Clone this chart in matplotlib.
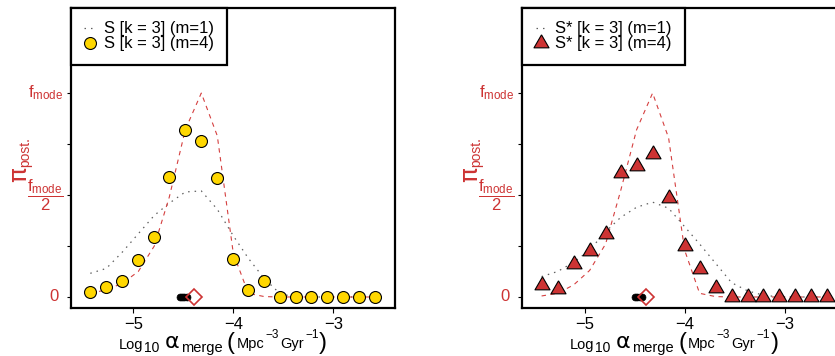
import matplotlib
matplotlib.use('Agg')
import matplotlib.pyplot as plt

plt.rcParams['font.family'] = ['Liberation Sans', 'DejaVu Sans']
plt.rcParams['mathtext.fontset'] = 'custom'
plt.rcParams['mathtext.rm'] = 'Liberation Sans'
plt.rcParams['mathtext.it'] = 'Liberation Sans:italic'
plt.rcParams['mathtext.bf'] = 'Liberation Sans:bold'

RED = '#CD3333'
YELLOW = '#FFD700'

# --- values, y in units of f_mode ---
log_alpha = [-5.43, -5.27, -5.11, -4.95, -4.79, -4.64, -4.48, -4.32, -4.16, -4.00,
             -3.85, -3.69, -3.53, -3.37, -3.22, -3.06, -2.90, -2.74, -2.58]

# left panel: S [k = 3]
s_m1 = [0.116, 0.14, 0.22, 0.31, 0.40, 0.46, 0.515, 0.52, 0.43, 0.30,
        0.19, 0.09, 0.015, 0, 0, 0, 0, 0, 0]
s_m4 = [0.023, 0.047, 0.077, 0.18, 0.293, 0.59, 0.819, 0.766, 0.585, 0.186,
        0.036, 0.077, 0, 0, 0, 0, 0, 0, 0]
s_true = [0.018, 0.035, 0.067, 0.125, 0.25, 0.49, 0.82, 1.0, 0.79, 0.214,
          0.018, 0.002, 0, 0, 0, 0, 0, 0, 0]
s_est = [-4.535, -4.51, -4.49, -4.465]
s_input = [-4.39]

# right panel: S* [k = 3]
sstar_m1 = [0.10, 0.125, 0.17, 0.23, 0.32, 0.39, 0.44, 0.465, 0.435, 0.345,
            0.26, 0.165, 0.07, 0.03, 0.01, 0, 0, 0, 0]
sstar_m4 = [0.058, 0.037, 0.161, 0.227, 0.308, 0.61, 0.642, 0.699, 0.486, 0.249,
            0.135, 0.045, 0, 0, 0, 0, 0, 0, 0]
sstar_true = [0.005, 0.018, 0.059, 0.13, 0.26, 0.52, 0.82, 1.0, 0.78, 0.23,
              0.018, 0.002, 0, 0, 0, 0, 0, 0, 0]
sstar_est = [-4.50, -4.475, -4.45, -4.43]
sstar_input = [-4.385]

x_ticks = [-5, -4, -3]
y_ticks = [0, 0.25, 0.5, 0.75, 1.0]
y_ticklabels = ['', '', r'$\dfrac{\mathrm{f_{mode}}}{2}$', '', r'$\mathrm{f_{mode}}$']

# triangle with its centroid on the data point (like R pch 24)
TRI = [(0, 1), (-0.866, -0.5), (0.866, -0.5), (0, 1)]

W, H = 835, 356
fig = plt.figure(figsize=(W / 100, H / 100), dpi=100)


def put(ax, s, dx, dy, size, **kw):
    # text piece placed in pixels from the lower-left corner of the axes
    ax.annotate(s, xy=(0, 0), xycoords='axes fraction', xytext=(dx, dy),
                textcoords='offset pixels', fontsize=size, ha='left',
                va='baseline', annotation_clip=False, **kw)


def panel(ax, y1, y4, ytrue, est, inp, marker, ms, fc, lab1, lab4):
    ax.plot(log_alpha, y1, color='#606060', lw=0.9, dashes=(1.2, 4), label=lab1, zorder=2)
    ax.plot(log_alpha, ytrue, color='#D54040', lw=0.8, dashes=(4, 4), zorder=2)
    ax.plot(est, [0] * len(est), 'o', color='black', ms=5, mew=0.5, zorder=3)
    ax.plot(inp, [0] * len(inp), 'D', mfc='none', mec=RED, ms=8.5, mew=1.2, zorder=4)
    ax.plot(log_alpha, y4, ls='none', marker=marker, ms=ms, mfc=fc, mec='black',
            mew=0.8, label=lab4, zorder=5)

    ax.set_xlim(-5.623, -2.383)
    ax.set_ylim(-0.054, 1.417)
    ax.set_xticks(x_ticks)
    ax.set_xticklabels(['\u2212%d' % abs(v) for v in x_ticks], fontsize=12)
    ax.set_yticks(y_ticks)
    ax.set_yticklabels(y_ticklabels, fontsize=12, color=RED)
    for lab in ax.get_yticklabels():
        lab.set_verticalalignment('center')
    ax.tick_params(axis='x', length=3.6, width=0.8, pad=3)
    ax.tick_params(axis='y', length=3.2, width=0.8, pad=2.3)
    for sp in ax.spines.values():
        sp.set_linewidth(1.6)
    # the zero label sits a little further from the axis than the others
    ax.annotate('0', xy=(0, 0), xycoords=('axes fraction', 'data'), xytext=(-12.5, 0),
                textcoords='offset pixels', fontsize=12, color=RED, ha='right',
                va='center', annotation_clip=False)

    leg = ax.legend(loc='upper left', bbox_to_anchor=(0, 1), borderaxespad=0,
                    fancybox=False, edgecolor='black', framealpha=1, fontsize=12,
                    handlelength=0.7, handletextpad=0.45, borderpad=0.8,
                    labelspacing=0.0)
    leg.get_frame().set_linewidth(1.6)

    # x label: Log10 alpha_merge (Mpc^-3 Gyr^-1)
    put(ax, 'Log', 47.3, -41.3, 10.5)
    put(ax, '10', 73, -43.7, 10)
    put(ax, '\u03b1', 93.4, -40.3, 16, family='DejaVu Sans')
    put(ax, 'merge', 109.7, -43.7, 10.5)
    put(ax, '(', 156, -41, 17)
    put(ax, 'Mpc', 165.5, -40.3, 10.5)
    put(ax, '\u22123', 194.5, -30.3, 8.5)
    put(ax, 'Gyr', 209, -40.3, 10.5)
    put(ax, '\u22121', 234, -30.3, 8.5)
    put(ax, ')', 248, -41, 17)

    # y label: pi_post.
    put(ax, '\u03c0', -45, 126.3, 18, family='DejaVu Sans', color=RED,
        rotation=90, rotation_mode='anchor')
    put(ax, 'post.', -42, 141.3, 10, color=RED, rotation=90, rotation_mode='anchor')


ax1 = fig.add_axes([71 / W, 1 - 308 / H, 324 / W, 300 / H])
panel(ax1, s_m1, s_m4, s_true, s_est, s_input, 'o', 8.6, YELLOW,
      'S [k = 3] (m=1)', 'S [k = 3] (m=4)')

ax2 = fig.add_axes([522.3 / W, 1 - 308 / H, 324 / W, 300 / H])
panel(ax2, sstar_m1, sstar_m4, sstar_true, sstar_est, sstar_input, TRI, 12.5, RED,
      'S* [k = 3] (m=1)', 'S* [k = 3] (m=4)')

fig.savefig('out.png', dpi=100)
